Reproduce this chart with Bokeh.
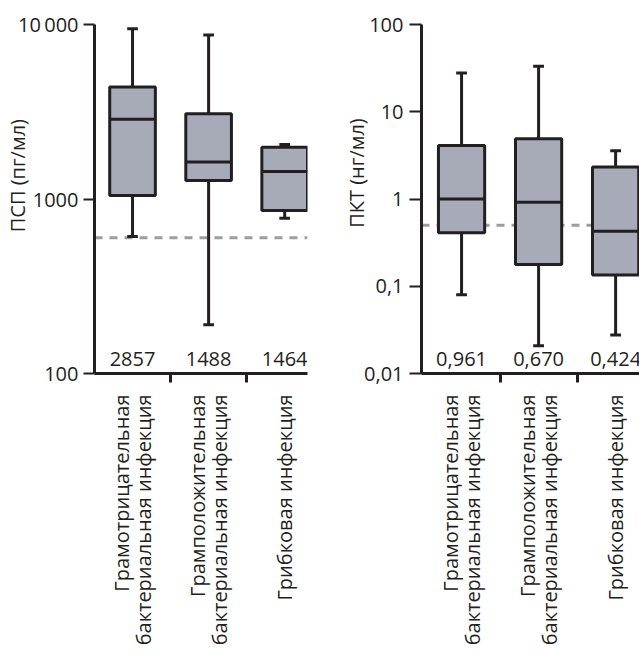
import math
from bokeh.plotting import figure
from bokeh.models import FixedTicker, Span, Range1d
from bokeh.layouts import row
from bokeh.embed import file_html
from bokeh.resources import INLINE
from bokeh.core.properties import value

# ---------------- data ----------------
categories = [
    "Грамотрицательная\nбактериальная инфекция",
    "Грамположительная\nбактериальная инфекция",
    "Грибковая инфекция",
]

# Presepsin (ПСП), pg/ml
psp_low = [609, 190, 776]
psp_q1 = [1047, 1277, 859]
psp_med = [2860, 1627, 1439]
psp_q3 = [4385, 3083, 1977]
psp_high = [9440, 8720, 2056]
psp_labels = ["2857", "1488", "1464"]
psp_cutoff = 600
psp_ticks = [100, 1000, 10000]
psp_tick_labels = ["100", "1000", "10\u2009000"]

# Procalcitonin (ПКТ), ng/ml
pct_low = [0.080, 0.0208, 0.0276]
pct_q1 = [0.41, 0.177, 0.135]
pct_med = [1.0, 0.92, 0.427]
pct_q3 = [4.11, 4.91, 2.32]
pct_high = [27.8, 33.2, 3.57]
pct_labels = ["0,961", "0,670", "0,424"]
pct_cutoff = 0.5
pct_ticks = [0.01, 0.1, 1, 10, 100]
pct_tick_labels = ["0,01", "0,1", "1", "10", "100"]

FONT = "Open Sans"
INK = "#231f20"
BOX_FILL = "#a7aab7"
DASH = "#9d9d9d"
NB = "\u00a0"


def panel(low, q1, med, q3, high, labels, cutoff, ticks, tick_labels, ylabel,
          width, min_left, min_right, x_start, x_end, tick_out, standoff,
          title_standoff, title_pad):
    xs = [i + 1 for i in range(len(categories))]
    p = figure(width=width, height=660, output_backend="svg", toolbar_location=None,
               y_axis_type="log", y_range=Range1d(ticks[0], ticks[-1]),
               x_range=Range1d(x_start, x_end),
               min_border_left=min_left, min_border_right=min_right,
               min_border_top=24, min_border_bottom=287,
               outline_line_color=None, background_fill_color="white",
               border_fill_color="white")
    p.grid.visible = False

    # cutoff line behind boxes
    p.add_layout(Span(location=cutoff, dimension="width", line_color=DASH,
                      line_width=3, line_dash="8 7", level="underlay"))

    cw = 0.07
    p.segment(x0=xs, y0=q3, x1=xs, y1=high, line_color=INK, line_width=3)
    p.segment(x0=xs, y0=low, x1=xs, y1=q1, line_color=INK, line_width=3)
    p.segment(x0=[x - cw for x in xs], y0=high, x1=[x + cw for x in xs], y1=high,
              line_color=INK, line_width=3)
    p.segment(x0=[x - cw for x in xs], y0=low, x1=[x + cw for x in xs], y1=low,
              line_color=INK, line_width=3)
    bw = 0.6
    p.vbar(x=xs, width=bw, bottom=q1, top=q3, fill_color=BOX_FILL,
           line_color=INK, line_width=3)
    p.segment(x0=[x - bw / 2 for x in xs], y0=med, x1=[x + bw / 2 for x in xs], y1=med,
              line_color=INK, line_width=3)

    p.text(x=xs, y=[ticks[0]] * len(xs), text=labels, text_align="center",
           text_baseline="middle", y_offset=-15, text_font=value(FONT),
           text_font_size="20px", text_color=INK)

    # y axis
    ya = p.yaxis[0]
    ya.ticker = FixedTicker(ticks=ticks, minor_ticks=[])
    ya.major_label_overrides = {t: l for t, l in zip(ticks, tick_labels)}
    ya.axis_line_width = 3
    ya.axis_line_color = INK
    ya.major_tick_line_color = INK
    ya.major_tick_line_width = 2
    ya.major_tick_out = tick_out
    ya.major_tick_in = 0
    ya.minor_tick_line_color = None
    ya.major_label_standoff = standoff
    ya.major_label_text_font = FONT
    ya.major_label_text_font_size = "20px"
    ya.major_label_text_color = INK
    ya.axis_label = NB * title_pad + ylabel
    ya.axis_label_standoff = title_standoff
    ya.axis_label_text_font = FONT
    ya.axis_label_text_font_size = "20px"
    ya.axis_label_text_font_style = "normal"
    ya.axis_label_text_color = INK

    # x axis (ticks between groups, labels at group centres)
    xa = p.xaxis[0]
    xa.ticker = FixedTicker(ticks=xs, minor_ticks=[x + 0.5 for x in xs[:-1]])
    xa.major_label_overrides = {x: c for x, c in zip(xs, categories)}
    xa.major_label_orientation = math.pi / 2
    xa.axis_line_width = 3
    xa.axis_line_color = INK
    xa.major_tick_line_color = None
    xa.major_tick_out = 0
    xa.major_tick_in = 0
    xa.minor_tick_line_color = INK
    xa.minor_tick_line_width = 3
    xa.minor_tick_out = 9
    xa.minor_tick_in = 0
    xa.major_label_standoff = 12
    xa.major_label_text_font = FONT
    xa.major_label_text_font_size = "20px"
    xa.major_label_text_line_height = 0.8
    xa.major_label_text_color = INK
    return p


p1 = panel(psp_low, psp_q1, psp_med, psp_q3, psp_high, psp_labels, psp_cutoff,
           psp_ticks, psp_tick_labels, "ПСП (пг/мл)",
           width=318, min_left=94, min_right=11, x_start=0.5, x_end=3.3,
           tick_out=11, standoff=5, title_standoff=-16, title_pad=9)
p2 = panel(pct_low, pct_q1, pct_med, pct_q3, pct_high, pct_labels, pct_cutoff,
           pct_ticks, pct_tick_labels, "ПКТ (нг/мл)",
           width=321, min_left=103, min_right=0, x_start=0.48, x_end=3.31,
           tick_out=12, standoff=6, title_standoff=-9, title_pad=10)

layout = row(p1, p2)
open("out.html", "w").write(file_html(layout, INLINE))
